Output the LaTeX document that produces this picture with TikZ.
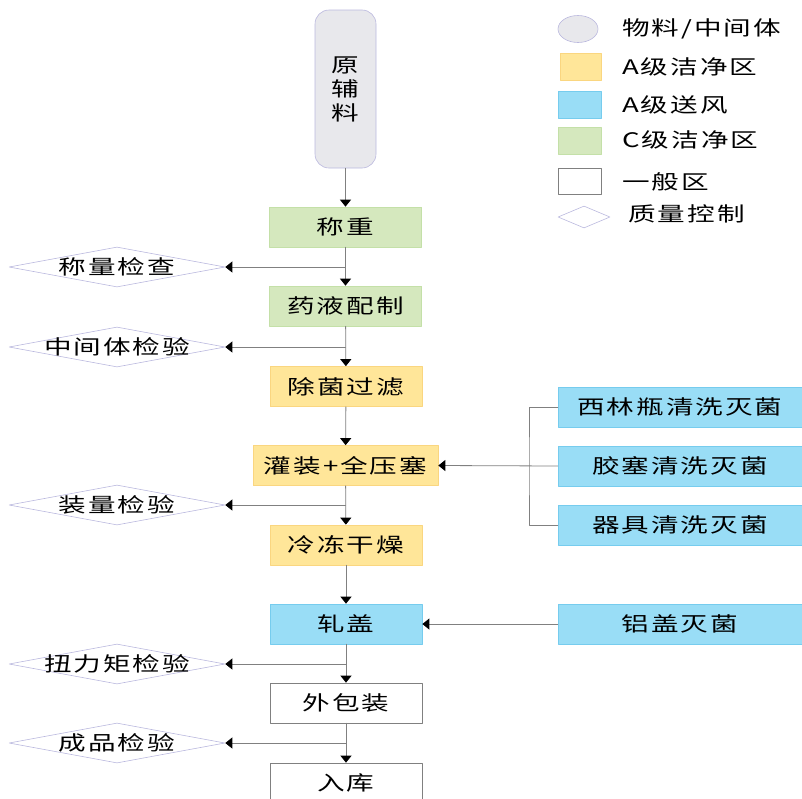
\documentclass[tikz,border=0pt]{standalone}
\usepackage{fontspec}
\usepackage{tikz}
\usetikzlibrary{shapes.geometric,arrows.meta}

\newfontfamily\cjk[FakeStretch=1.38, LetterSpace=10]{Noto Sans CJK SC}

\definecolor{gruen}{RGB}{213,232,190}
\definecolor{gruenrand}{RGB}{196,224,168}
\definecolor{gelb}{RGB}{255,230,153}
\definecolor{gelbrand}{RGB}{250,214,128}
\definecolor{blau}{RGB}{153,221,246}
\definecolor{blaurand}{RGB}{118,204,238}
\definecolor{grau}{RGB}{232,232,236}
\definecolor{lila}{RGB}{186,184,222}
\definecolor{liniengrau}{RGB}{128,128,128}

\begin{document}
\begin{tikzpicture}[x=1pt, y=-1pt, line cap=round, line join=round,
    schrift/.style={font=\cjk\fontsize{20}{24}\selectfont},
    box/.style={schrift, draw, line width=0.7pt, minimum width=152pt, minimum height=40pt, inner sep=0pt},
    cbox/.style={box, fill=gruen, draw=gruenrand},
    abox/.style={box, fill=gelb, draw=gelbrand},
    luftbox/.style={box, fill=blau, draw=blaurand},
    allgbox/.style={box, fill=white, draw=liniengrau},
    pruef/.style={diamond, draw=lila, line width=0.6pt, minimum width=216pt, minimum height=40pt, inner sep=0pt, label={[schrift]center:#1}},
    linie/.style={draw=liniengrau, line width=0.8pt},
    pfeil/.style={linie, -{Triangle[length=7pt,width=11pt,color=black]}}]

    % --- Rahmen (Bildgroesse) ---
    \useasboundingbox (0,0) rectangle (802,798);

    % --- Parameter ---
    \pgfmathsetmacro{\X}{346}   % Hauptstrang
    \pgfmathsetmacro{\Q}{117}   % Pruefungen links
    \pgfmathsetmacro{\R}{680}   % Vorbereitung rechts

    % --- Hauptstrang ---
    \node[schrift, draw=lila, fill=grau, line width=0.6pt, rounded corners=14pt, minimum width=61pt, minimum height=158pt, align=center] (roh) at (\X-0.5,89) {原\\辅\\料};
    \node[cbox] (wiegen) at (\X-0.5,227) {称重};
    \node[cbox] (ansatz) at (\X-0.5,306) {药液配制};
    \node[abox] (filtr) at (\X,386.5) {除菌过滤};
    \node[abox, minimum width=185pt] (fuell) at (\X-0.5,465.5) {灌装+全压塞};
    \node[abox] (lyo) at (\X,545) {冷冻干燥};
    \node[luftbox] (boerdel) at (\X,624) {轧盖};
    \node[allgbox] (verpack) at (\X,703) {外包装};
    \node[allgbox] (lager) at (\X,783) {入库};

    \draw[pfeil] (roh) -- (wiegen);
    \draw[pfeil] (wiegen) -- (ansatz);
    \draw[pfeil] (ansatz) -- (filtr);
    \draw[pfeil] (filtr) -- (fuell);
    \draw[pfeil] (fuell) -- (lyo);
    \draw[pfeil] (lyo) -- (boerdel);
    \draw[pfeil] (boerdel) -- (verpack);
    \draw[pfeil] (verpack) -- (lager);

    % --- Qualitaetskontrolle (links) ---
    \node[pruef=称量检查] (q1) at (\Q,267) {};
    \node[pruef=中间体检验] (q2) at (\Q,347) {};
    \node[pruef=装量检验] (q3) at (\Q,505) {};
    \node[pruef=扭力矩检验] (q4) at (\Q,664) {};
    \node[pruef=成品检验] (q5) at (\Q,743) {};

    \coordinate (k1) at (wiegen.south |- q1.east);
    \coordinate (k2) at (ansatz.south |- q2.east);
    \coordinate (k3) at (fuell.south |- q3.east);
    \coordinate (k4) at (boerdel.south |- q4.east);
    \coordinate (k5) at (verpack.south |- q5.east);
    \foreach \k/\q in {k1/q1, k2/q2, k3/q3, k4/q4, k5/q5}
        \draw[pfeil] (\k) -- (\q.east);

    % --- Vorbereitung (rechts) ---
    \node[luftbox, minimum width=244pt] (flasche) at (\R,407) {西林瓶清洗灭菌};
    \node[luftbox, minimum width=244pt] (stopfen) at (\R,466) {胶塞清洗灭菌};
    \node[luftbox, minimum width=244pt] (geraet) at (\R,525) {器具清洗灭菌};
    \node[luftbox, minimum width=244pt] (kappe) at (\R,624) {铝盖灭菌};

    \coordinate (gabel) at (529,466);
    \draw[linie] (flasche.west) -| (gabel) |- (geraet.west);
    \draw[pfeil] (stopfen.west) -- (fuell.east);
    \draw[pfeil] (kappe.west) -- (boerdel.east);

    % --- Legende ---
    \node[ellipse, draw=lila, fill=grau, line width=0.6pt, minimum width=40pt, minimum height=27pt, inner sep=0pt] (l1) at (578,29) {};
    \node[draw=gelbrand, fill=gelb, minimum width=41pt, minimum height=27pt, inner sep=0pt] (l2) at (580.5,66.5) {};
    \node[draw=blaurand, fill=blau, minimum width=43pt, minimum height=27pt, inner sep=0pt] (l3) at (579.5,104.5) {};
    \node[draw=gruenrand, fill=gruen, minimum width=43pt, minimum height=27pt, inner sep=0pt] (l4) at (579.5,140.5) {};
    \node[draw=liniengrau, fill=white, minimum width=43pt, minimum height=26pt, inner sep=0pt] (l5) at (579.5,181) {};
    \node[diamond, draw=lila, line width=0.6pt, minimum width=52pt, minimum height=22pt, inner sep=0pt] (l6) at (584,217) {};

    \node[schrift, anchor=west, inner sep=0pt] (t1) at (622,29) {物料/中间体};
    \node[schrift, anchor=west, inner sep=0pt] (t2) at (622,67) {A级洁净区};
    \node[schrift, anchor=west, inner sep=0pt] (t3) at (622,105) {A级送风};
    \node[schrift, anchor=west, inner sep=0pt] (t4) at (622,140) {C级洁净区};
    \node[schrift, anchor=west, inner sep=0pt] (t5) at (622,182) {一般区};
    \node[schrift, anchor=west, inner sep=0pt] (t6) at (628,214) {质量控制};

\end{tikzpicture}
\end{document}
